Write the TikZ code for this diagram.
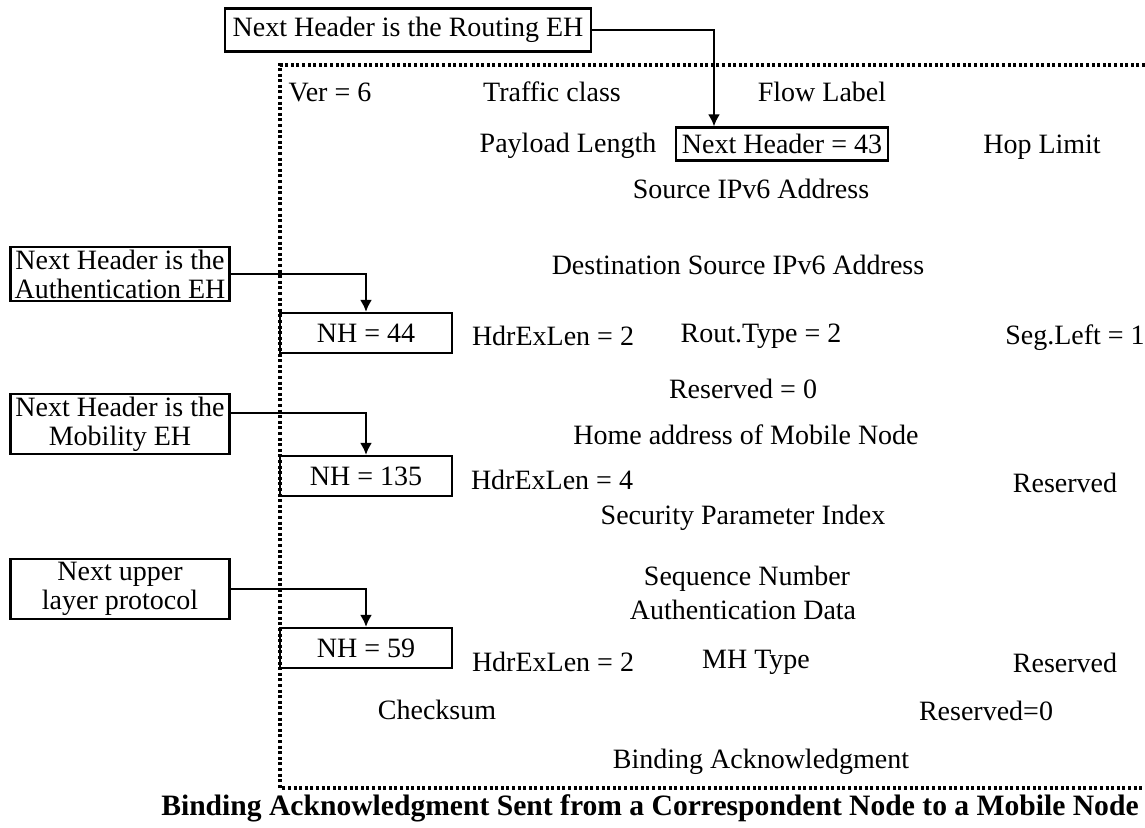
\documentclass[tikz,border=0pt]{standalone}
\usepackage{fontspec}
\setmainfont{Liberation Serif}
\usetikzlibrary{arrows.meta}

\tikzset{
  hdr/.style={draw, line width=1.1pt, inner sep=2pt, font=\fontsize{14}{14.5}\selectfont},
  nhbox/.style={hdr, minimum width=86pt, minimum height=20pt},
  notebox/.style={hdr, minimum width=109.5pt, align=center, inner sep=1.5pt},
  fld/.style={font=\fontsize{14}{15}\selectfont},
  nharrow/.style={line width=1.1pt, -{Latex[length=6pt,width=6pt]}}
}

\begin{document}
\begin{tikzpicture}[x=0.5pt,y=-0.5pt]
\useasboundingbox (0,0) rectangle (1145,828);

% Packet frame
\draw[line width=1.6pt, dash pattern=on 1.5pt off 1.3pt] (1145,65) -- (280,65) -- (280,788) -- (1145,788);

% IPv6 header
\node[fld] (ver) at (330,92) {Ver = 6};
\node[fld] (tclass) at (552,92) {Traffic class};
\node[fld] (flow) at (822,92) {Flow Label};
\node[fld] (plen) at (568,146) {Payload Length};
\node[hdr, minimum width=106pt, minimum height=16.5pt] (nh43) at (782,144) {Next Header = 43};
\node[fld] (hop) at (1042,147) {Hop Limit};
\node[fld] (src) at (751,189) {Source IPv6 Address};
\node[fld] (dst) at (738,265) {Destination Source IPv6 Address};

% Routing EH
\node[nhbox] (nh44) at (366,333) {NH = 44};
\node[fld] (len44) at (553,336) {HdrExLen = 2};
\node[fld] (rtype) at (761,336) {Rout.Type = 2};
\node[fld] (segl) at (1075,338) {Seg.Left = 1};
\node[fld] (rsv1) at (743,389) {Reserved = 0};
\node[fld] (home) at (746,435) {Home address of Mobile Node};

% Authentication EH
\node[nhbox] (nh135) at (366,476) {NH = 135};
\node[fld] (len135) at (552,480) {HdrExLen = 4};
\node[fld] (rsv2) at (1065,483) {Reserved};
\node[fld] (spi) at (743,518) {Security Parameter Index};
\node[fld] (seq) at (747,579) {Sequence Number};
\node[fld] (auth) at (743,610) {Authentication Data};

% Mobility EH
\node[nhbox] (nh59) at (366,648) {NH = 59};
\node[fld] (len59) at (553,662) {HdrExLen = 2};
\node[fld] (mht) at (756,662) {MH Type};
\node[fld] (rsv3) at (1065,663) {Reserved};
\node[fld] (cks) at (437,710) {Checksum};
\node[fld] (rsv4) at (986,711) {Reserved=0};
\node[fld] (back) at (761,762) {Binding Acknowledgment};

% Notes on the left
\node[hdr, inner xsep=4pt, minimum height=21.5pt] (rtnote) at (408,30) {Next Header is the Routing EH};
\node[notebox] (aunote) at (120,274) {Next Header is the\\Authentication EH};
\node[notebox] (mbnote) at (120,424) {Next Header is the\\Mobility EH};
\node[notebox] (upnote) at (120,589) {Next upper\\layer protocol};

\draw[nharrow] (rtnote.east) -| ([xshift=-34pt]nh43.north);
\draw[nharrow] (aunote.east) -| (nh44.north);
\draw[nharrow] ([yshift=5.5pt]mbnote.east) -| (nh135.north);
\draw[nharrow] (upnote.east) -| (nh59.north);

\node[font=\bfseries\fontsize{14.8}{16}\selectfont] (cap) at (650,808)
  {Binding Acknowledgment Sent from a Correspondent Node to a Mobile Node};
\end{tikzpicture}
\end{document}
